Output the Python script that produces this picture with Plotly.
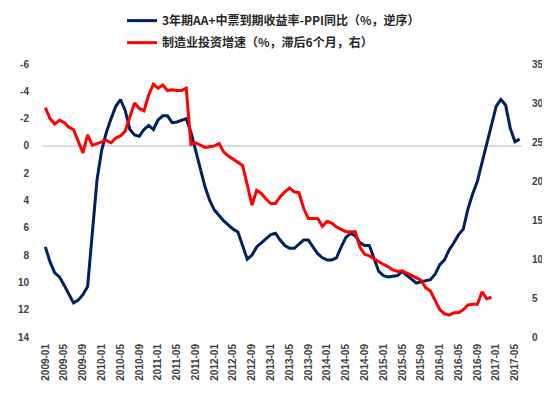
import plotly.graph_objects as go

# monthly categories 2009-01 .. 2017-06
months = [f"{y}-{m:02d}" for y in range(2009, 2018) for m in range(1, 13)][:102]

# 3年期AA+中票到期收益率-PPI同比 (left axis, reversed)
yield_minus_ppi = [
    7.4, 8.5, 9.3, 9.6, 10.2, 10.9, 11.5, 11.3, 10.9, 10.3,
    6.3, 2.5, 0.3, -1.0, -2.0, -2.9, -3.4, -2.6, -1.2, -0.8,
    -0.7, -1.2, -1.5, -1.2, -1.9, -2.2, -2.2, -1.7, -1.75, -1.9,
    -2.0, -1.0, 0.3, 1.5, 3.0, 4.0, 4.7, 5.1, 5.5, 5.8,
    6.1, 6.3, 7.3, 8.3, 8.0, 7.4, 7.1, 6.8, 6.5, 6.4,
    6.9, 7.3, 7.5, 7.5, 7.2, 6.9, 6.9, 7.4, 7.9, 8.2,
    8.35, 8.35, 8.2, 7.4, 6.7, 6.4, 6.6, 7.1, 7.3, 7.3,
    8.2, 9.2, 9.5, 9.6, 9.55, 9.5, 9.2, 9.5, 9.8, 10.05,
    9.95, 9.85, 9.8, 9.4, 8.7, 8.35, 7.6, 7.1, 6.5, 6.1,
    4.6, 3.5, 2.6, 1.2, -0.2, -1.5, -2.9, -3.4, -3.0, -1.3,
    -0.3, -0.5,
]

# 制造业投资增速 (滞后6个月, right axis)
mfg_invest = [
    29.4, 28.0, 27.3, 27.8, 27.5, 26.9, 26.6, 25.0, 23.6, 25.9,
    24.6, 24.8, 25.0, 25.2, 24.9, 25.5, 25.8, 26.4, 28.2, 30.0,
    29.3, 29.0, 31.0, 32.4, 31.9, 32.3, 31.6, 31.7, 31.6, 31.6,
    31.9, 24.7, 24.9, 24.6, 24.3, 24.4, 24.5, 24.8, 23.7, 23.2,
    22.8, 22.5, 22.0, 19.5, 16.9, 18.8, 18.4, 17.7, 17.1, 17.1,
    18.0, 18.6, 19.1, 18.6, 18.5, 16.5, 15.2, 15.2, 15.2, 14.2,
    14.8, 14.6, 14.1, 13.8, 13.5, 13.5, 13.5, 11.5, 10.6, 10.4,
    10.0, 9.6, 9.3, 9.0, 8.6, 8.4, 8.5, 8.2, 7.9, 7.6,
    7.3, 6.3, 5.9, 4.7, 3.5, 3.0, 2.8, 3.1, 3.1, 3.5,
    4.1, 4.2, 4.2, 5.8, 4.9, 5.1,
]

tick_labels = months[::4]
left_ticks = [-6, -4, -2, 0, 2, 4, 6, 8, 10, 12, 14]
right_ticks = [0, 5, 10, 15, 20, 25, 30, 35]

name1 = "3年期AA+中票到期收益率-PPI同比（%，逆序）"
name2 = "制造业投资增速（%，滞后6个月，右）"

tickfont = dict(family="Liberation Sans, Arial, sans-serif", size=10, color="#404040", weight="bold")

fig = go.Figure()
fig.add_trace(go.Scatter(
    x=months, y=yield_minus_ppi, name=name1, mode="lines",
    line=dict(color="#002060", width=3), legendgroup="a", yaxis="y"))
fig.add_trace(go.Scatter(
    x=months[:len(mfg_invest)], y=mfg_invest, name=name2, mode="lines",
    line=dict(color="#FF0000", width=3), legendgroup="b", yaxis="y2"))

# page body has an 8px default margin, so the figure is 8px smaller and shifted
fig.update_layout(
    width=542, height=385,
    margin=dict(l=35, r=28, t=56, b=56, autoexpand=False),
    paper_bgcolor="white", plot_bgcolor="white",
    showlegend=True,
    legend=dict(
        x=0.165, y=1.212, xanchor="left", yanchor="top",
        orientation="v", tracegroupgap=3,
        font=dict(family="Noto Sans CJK SC", size=12, color="#262626", weight="bold"),
        bgcolor="rgba(0,0,0,0)", itemwidth=30,
    ),
    xaxis=dict(
        type="category", categoryorder="array", categoryarray=months,
        range=[-0.5, len(months) - 0.5],
        tickmode="array", tickvals=tick_labels, ticktext=tick_labels,
        tickangle=-90, tickfont=tickfont, showgrid=False, zeroline=False,
        showline=False, ticks="", ticklabelstandoff=4, automargin=False,
    ),
    yaxis=dict(
        range=[14, -6], tickmode="array", tickvals=left_ticks,
        ticktext=[str(v) for v in left_ticks],
        tickfont=tickfont, showgrid=False, zeroline=True,
        zerolinecolor="#d9d9d9", zerolinewidth=1.5, showline=False,
        ticks="", ticklabelstandoff=13, automargin=False,
    ),
    yaxis2=dict(
        range=[0, 35], tickmode="array", tickvals=right_ticks,
        ticktext=[str(v) for v in right_ticks],
        overlaying="y", side="right", tickfont=tickfont,
        showgrid=False, zeroline=False, showline=False, ticks="",
        ticklabelstandoff=9, automargin=False,
    ),
)

fig.write_html("out.html")
